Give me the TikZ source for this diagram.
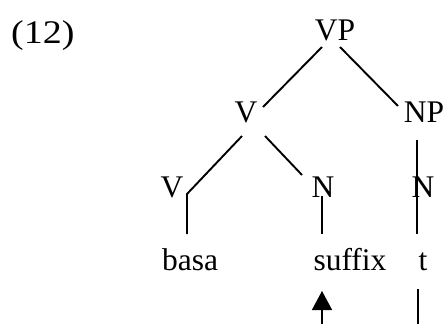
\documentclass[tikz,border=0pt]{standalone}
\usepackage{fontspec}
\setmainfont{Liberation Serif}
\usetikzlibrary{calc,arrows.meta}
\begin{document}
\begin{tikzpicture}[x=1pt,y=-1pt,
  lab/.style={anchor=base,inner sep=0pt,font=\fontsize{31.5}{37}\selectfont},
  branch/.style={line width=1.9pt},
  stem/.style={line width=1.5pt}]
\useasboundingbox (0,0) rectangle (448,324);
% labels
\node[lab,anchor=base west,font=\fontsize{33}{38}\selectfont] (ex) at (11,43) {\scalebox{1.15}[1]{(12)}};
\node[lab] (VP) at (335,41) {VP};
\node[lab] (V1) at (246,122) {V};
\node[lab] (NP) at (424,122) {NP};
\node[lab] (V2) at (172,197) {V};
\node[lab] (N1) at (323,197) {N};
\node[lab] (N2) at (423,197) {N};
\node[lab] (basa) at (190,270) {basa};
\node[lab] (suffix) at (350,270) {suffix};
\node[lab] (t) at (423,270) {t};
% loose ends at the lower edge
\coordinate (arrowfoot) at (322,324);
\coordinate (tfoot) at (418,324);
% branches
\draw[branch] ($(VP.base)+(-13,6)$) -- ($(V1.base)+(17,-15)$);
\draw[branch] ($(VP.base)+(5,6)$) -- ($(NP.base)+(-26,-16)$);
\draw[branch] ($(V1.base)+(-4,14)$) -- ($(V2.base)+(15,-3)$) -- ($(basa.base)+(-3,-36)$);
\draw[branch] ($(V1.base)+(19,14)$) -- ($(N1.base)+(-21,-22)$);
\draw[stem] ($(NP.base)+(-7,18)$) -- ($(t.base)+(-6,-36)$);
\draw[stem] ($(N1.base)+(-1,-1)$) -- ($(suffix.base)+(-28,-36)$);
% movement arrow and trace line
\draw[stem,-{Triangle[width=20pt,length=19pt]}] (arrowfoot) -- ($(suffix.base)+(-28,21)$);
\draw[stem] ($(t.base)+(-5,19)$) -- (tfoot);
\end{tikzpicture}
\end{document}
